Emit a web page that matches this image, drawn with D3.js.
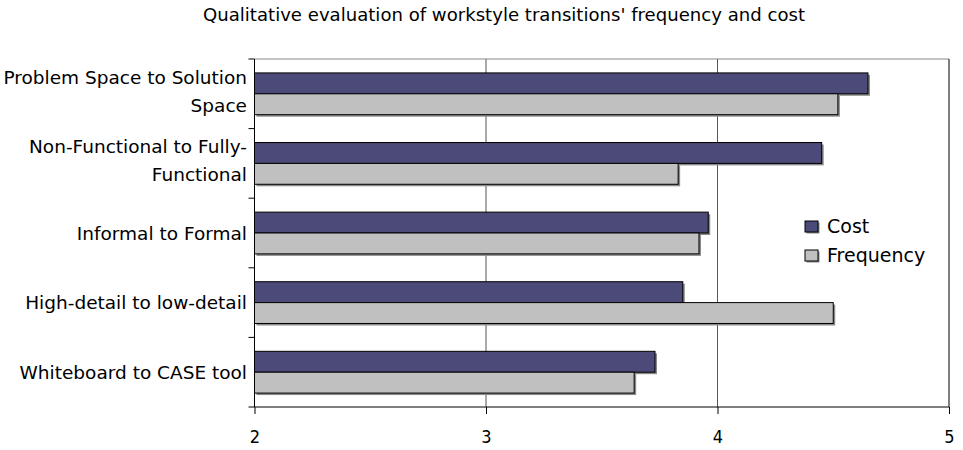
<!DOCTYPE html>
<html><head><meta charset="utf-8">
<script src="https://cdn.jsdelivr.net/npm/d3@7"></script>
<style>body{margin:0;background:#fff}svg text{font-family:"DejaVu Sans",sans-serif;fill:#000}</style>
</head><body><svg id="c" width="963" height="450"></svg>
<script>
const title = "Qualitative evaluation of workstyle transitions' frequency and cost";
const categories = [
  ["Problem Space to Solution", "Space"],
  ["Non-Functional to Fully-", "Functional"],
  ["Informal to Formal"],
  ["High-detail to low-detail"],
  ["Whiteboard to CASE tool"]
];
const seriesNames = ["Cost", "Frequency"];
const costValues = [4.65, 4.45, 3.96, 3.85, 3.73];
const frequencyValues = [4.52, 3.83, 3.92, 4.50, 3.64];
const xTicks = [2, 3, 4, 5];

const colors = {Cost: "#4b4a78", Frequency: "#c0c0c0"};
const svg = d3.select("#c");
const m = {left: 254.5, right: 949, top: 59, bottom: 407};
const x = d3.scaleLinear().domain([2, 5]).range([m.left, m.right]);
const catIdx = d3.range(categories.length);
const y = d3.scaleBand().domain(catIdx).range([m.top, m.bottom]).paddingInner(0.4).paddingOuter(0.2);
const ySub = d3.scaleBand().domain(seriesNames).range([0, y.bandwidth()]);
const yBound = d3.scaleBand().domain(catIdx).range([m.top, m.bottom]);

svg.append("text").attr("x", 504).attr("y", 21).attr("text-anchor", "middle")
  .style("font-size", "18px").attr("textLength", 602).attr("lengthAdjust", "spacingAndGlyphs").text(title);

// gridlines
svg.append("g").selectAll("line").data(xTicks.slice(1, -1)).join("line")
  .attr("x1", d => x(d)).attr("x2", d => x(d)).attr("y1", m.top).attr("y2", m.bottom)
  .attr("stroke", "#555").attr("stroke-width", 1);
// frame
svg.append("line").attr("x1", m.left).attr("x2", m.right).attr("y1", m.top).attr("y2", m.top).attr("stroke", "#888");
svg.append("line").attr("x1", m.right).attr("x2", m.right).attr("y1", m.top).attr("y2", m.bottom).attr("stroke", "#000");

// bars
const rows = [];
catIdx.forEach(i => {
  rows.push({i, s: "Cost", v: costValues[i]});
  rows.push({i, s: "Frequency", v: frequencyValues[i]});
});
const g = svg.append("g");
g.selectAll("rect.sh").data(rows).join("rect").attr("class", "sh")
  .attr("x", x(2) + 2).attr("y", d => y(d.i) + ySub(d.s) + 2)
  .attr("width", d => x(d.v) - x(2)).attr("height", ySub.bandwidth())
  .attr("fill", "#8a8a8a");
g.selectAll("rect.b").data(rows).join("rect").attr("class", "b")
  .attr("x", x(2)).attr("y", d => y(d.i) + ySub(d.s))
  .attr("width", d => x(d.v) - x(2)).attr("height", ySub.bandwidth())
  .attr("fill", d => colors[d.s]).attr("stroke", "#000").attr("stroke-width", 1);

// x axis
const xa = svg.append("g").attr("transform", `translate(0,${m.bottom})`)
  .call(d3.axisBottom(x).tickValues(xTicks).tickSize(7).tickPadding(16).tickFormat(d3.format("d")));
xa.select(".domain").attr("stroke", "#000").attr("d", `M${m.left},0H${m.right}`);
xa.selectAll("text").style("font-size", "18px").style("font-family", "DejaVu Sans Condensed");

// y axis
const bounds = catIdx.map(i => yBound(i)).concat([m.bottom]);
svg.append("line").attr("x1", m.left).attr("x2", m.left).attr("y1", m.top).attr("y2", m.bottom).attr("stroke", "#000");
svg.append("g").selectAll("line").data(bounds).join("line")
  .attr("x1", m.left - 6).attr("x2", m.left).attr("y1", d => d).attr("y2", d => d).attr("stroke", "#000");
const lab = svg.append("g").selectAll("text").data(catIdx).join("text")
  .attr("text-anchor", "end").style("font-size", "18.5px")
  .attr("y", i => y(i) + y.bandwidth() / 2);
lab.each(function(i) {
  const lines = categories[i];
  const t = d3.select(this);
  lines.forEach((ln, k) => {
    t.append("tspan").attr("x", 247)
      .attr("dy", k === 0 ? ((-(lines.length - 1) * 28 / 2) + 6.5 - (lines.length - 1) * 2.5) : 28).text(ln);
  });
});

// legend
const lg = svg.append("g").selectAll("g").data(seriesNames).join("g")
  .attr("transform", (d, k) => `translate(805,${221 + k * 29})`);
lg.append("rect").attr("x", 1.5).attr("y", 1.5).attr("width", 13).attr("height", 11).attr("fill", "#888");
lg.append("rect").attr("width", 13).attr("height", 11).attr("fill", d => colors[d]).attr("stroke", "#000");
lg.append("text").attr("x", 22).attr("y", 12).style("font-size", "19px").text(d => d);
</script></body></html>
